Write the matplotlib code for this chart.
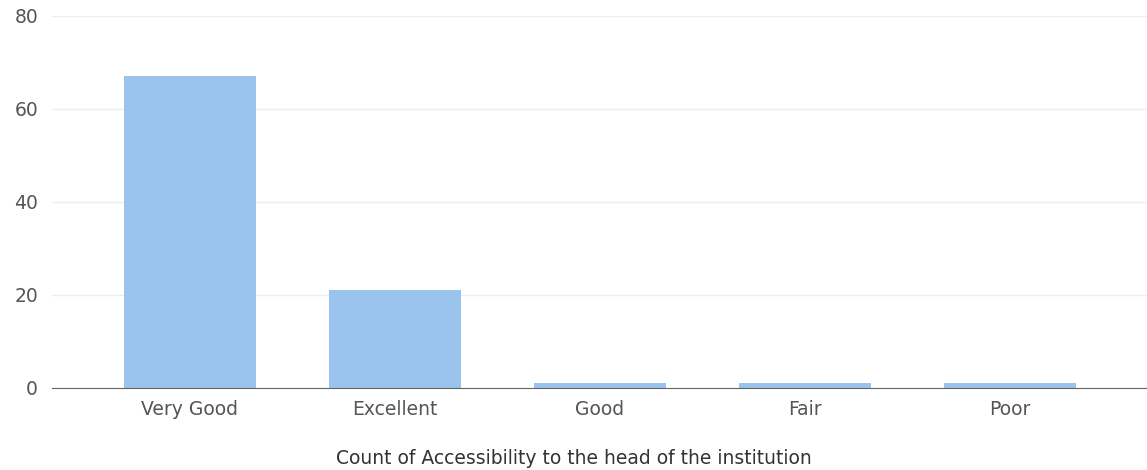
import matplotlib.pyplot as plt
import numpy as np

categories = ["Very Good", "Excellent", "Good", "Fair", "Poor"]
counts = [67, 21, 1, 1, 1]
y_ticks = [0, 20, 40, 60, 80]
x_title = "Count of Accessibility to the head of the institution"

plt.rcParams['font.family'] = ['DejaVu Sans']

fig = plt.figure(figsize=(11.47, 4.70), dpi=100)
ax = fig.add_axes([0.0453, 0.1745, 0.9547, 0.7915])

x = np.arange(len(categories))
ax.bar(x, counts, width=0.645, color='#9ac3ee', zorder=2)

ax.set_xlim(-0.673, 4.67)
ax.set_ylim(0, 80)
ax.set_yticks(y_ticks)
ax.set_xticks(x)
ax.set_xticklabels(categories)
ax.grid(axis='y', color='#ededed', linewidth=1, zorder=0)

for side in ['top', 'right', 'left']:
	ax.spines[side].set_visible(False)
ax.spines['bottom'].set_color('#666666')
ax.spines['bottom'].set_zorder(3)

ax.tick_params(axis='both', length=0, colors='#555555', labelsize=13.5)
ax.tick_params(axis='y', pad=10)
ax.tick_params(axis='x', pad=9)

ax.set_xlabel(x_title, fontsize=13.5, color='#333333')
ax.xaxis.set_label_coords(0.477, -0.165)

fig.savefig("out.png", dpi=100)
